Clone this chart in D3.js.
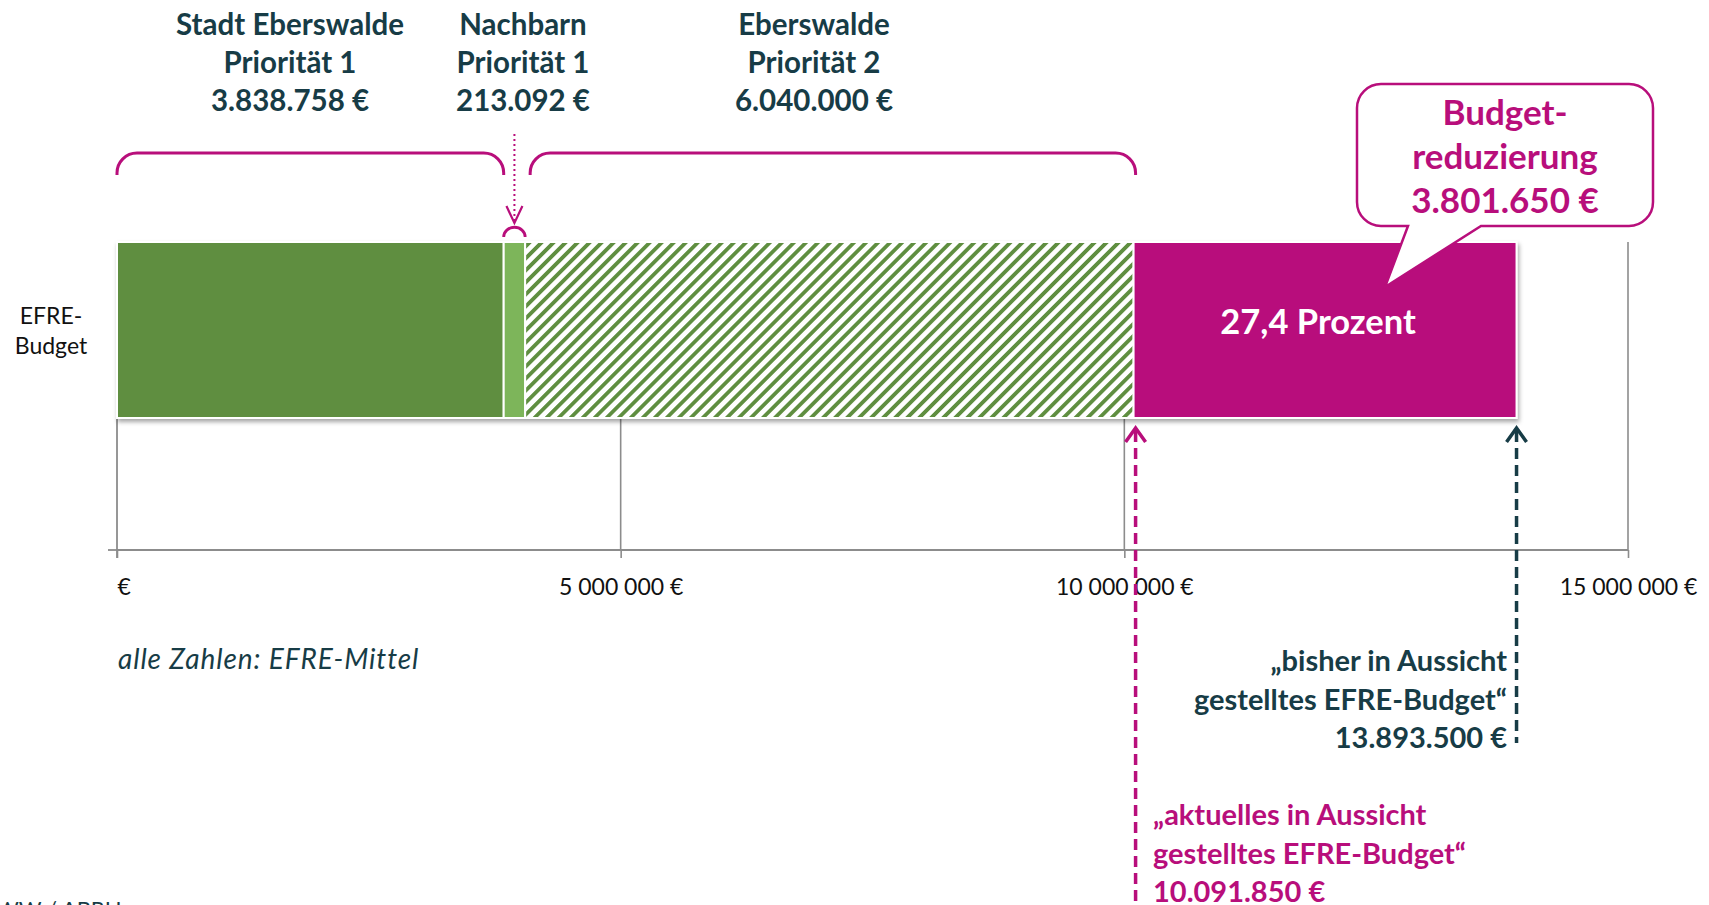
<!DOCTYPE html>
<html><head><meta charset="utf-8">
<script src="https://cdn.jsdelivr.net/npm/d3@7"></script>
<style>
html,body{margin:0;padding:0;background:#fff;}
svg{display:block;font-family:Lato,"Open Sans",sans-serif;}
</style></head>
<body>
<svg id="c" width="1709" height="905"></svg>
<script>
// ---- data ----
const categories = ["EFRE-Budget"];
const segmentNames = ["Stadt Eberswalde Priorität 1", "Nachbarn Priorität 1", "Eberswalde Priorität 2", "Budgetreduzierung"];
const segmentValues = [3838758, 213092, 6040000, 3801650];
const tickValues = [0, 5000000, 10000000, 15000000];
const headerLabels = [
  ["Stadt Eberswalde", "Priorität 1", "3.838.758 €"],
  ["Nachbarn", "Priorität 1", "213.092 €"],
  ["Eberswalde", "Priorität 2", "6.040.000 €"]
];
const calloutLabel = ["Budget-", "reduzierung", "3.801.650 €"];
const percentLabel = "27,4 Prozent";
const previousBudget = 13893500;
const currentBudget = 10091850;
const previousLabel = ["„bisher in Aussicht", "gestelltes EFRE-Budget“", "13.893.500 €"];
const currentLabel = ["„aktuelles in Aussicht", "gestelltes EFRE-Budget“", "10.091.850 €"];
const noteLabel = "alle Zahlen: EFRE-Mittel";
const sourceLabel = "WW / ABRH";

// ---- styles ----
const C = {dark:"#5E8E3F", light:"#7DB55A", magenta:"#B80E7B", teal:"#173C46", grid:"#8C8C8C"};

const svg = d3.select("#c");
const plotTop = 242, barBottom = 418, baseY = 550;
const x = d3.scaleLinear().domain([0, 15000000]).range([117, 1628]);
const y = d3.scaleBand().domain(categories).range([plotTop, barBottom]).padding(0);

const defs = svg.append("defs");
const pat = defs.append("pattern").attr("id","hatch").attr("patternUnits","userSpaceOnUse")
  .attr("width",8.5).attr("height",8.5).attr("patternTransform","rotate(45)");
pat.append("rect").attr("width",8.5).attr("height",8.5).attr("fill","#fff");
pat.append("rect").attr("x",0).attr("width",3.8).attr("height",8.5).attr("fill",C.dark);
const f = defs.append("filter").attr("id","sh").attr("x","-5%").attr("y","-10%").attr("width","110%").attr("height","130%");
f.append("feDropShadow").attr("dx",1.5).attr("dy",3).attr("stdDeviation",2).attr("flood-color","#000").attr("flood-opacity",0.35);

// gridlines
svg.append("g").selectAll("line").data(tickValues.slice(1)).join("line")
  .attr("x1",d=>x(d)).attr("x2",d=>x(d)).attr("y1",plotTop).attr("y2",baseY)
  .attr("stroke",C.grid).attr("stroke-width",1.6);
// y axis line
svg.append("line").attr("x1",x(0)).attr("x2",x(0)).attr("y1",plotTop).attr("y2",baseY+8)
  .attr("stroke",C.grid).attr("stroke-width",1.8);
svg.append("line").attr("x1",x(0)-9).attr("x2",x(0)).attr("y1",baseY).attr("y2",baseY)
  .attr("stroke",C.grid).attr("stroke-width",1.8);

// x axis
const fmt = d3.formatLocale({decimal:",", thousands:" ", grouping:[3], currency:["",""]}).format(",.0f");
const ax = svg.append("g").attr("transform",`translate(0,${baseY})`)
  .call(d3.axisBottom(x).tickValues(tickValues).tickSize(8).tickSizeOuter(0)
    .tickFormat(d => d === 0 ? "€" : fmt(d) + " €"));
ax.select(".domain").attr("stroke",C.grid).attr("stroke-width",1.8).attr("d",`M${x(0)},0H${x(15000000)}`);
ax.selectAll(".tick line").attr("stroke",C.grid).attr("stroke-width",1.6);
ax.selectAll(".tick text").attr("font-family","Lato").attr("font-size",23).attr("fill","#111")
  .attr("y",45).attr("dy",0)
  .attr("text-anchor", d => d === 0 ? "start" : "middle");

// stacked bar
let acc = 0;
const segs = segmentValues.map((v,i)=>{const s={name:segmentNames[i], x0:acc, x1:acc+v, i}; acc+=v; return s;});
const fills = [C.dark, C.light, "url(#hatch)", C.magenta];
const barG = svg.append("g").attr("filter","url(#sh)");
barG.selectAll("rect").data(segs).join("rect")
  .attr("x",d=>x(d.x0)).attr("width",d=>x(d.x1)-x(d.x0))
  .attr("y",y(categories[0])).attr("height",y.bandwidth())
  .attr("fill",(d,i)=>fills[i]).attr("stroke","#fff").attr("stroke-width",2);

// category label
svg.append("text").attr("x",51).attr("y",324).attr("text-anchor","middle").attr("font-size",23).attr("fill","#111")
  .selectAll("tspan").data(["EFRE-","Budget"]).join("tspan").attr("x",51).attr("dy",(d,i)=>i?30:0).text(d=>d);

// percent label
svg.append("text").attr("x",(x(segs[3].x0)+x(segs[3].x1))/2 - 7).attr("y",334).attr("text-anchor","middle")
  .attr("font-size",34.5).attr("font-weight",700).attr("fill","#fff").text(percentLabel);

// header labels
const hx = [290, 523, 814];
headerLabels.forEach((lines,k)=>{
  svg.append("text").attr("text-anchor","middle").attr("font-size",29.5).attr("font-weight",700).attr("fill",C.teal)
    .selectAll("tspan").data(lines).join("tspan").attr("x",hx[k]).attr("y",(d,i)=>35+i*38).text(d=>d);
});

// braces
function brace(a,b,top,bot,r){
  return `M${a},${bot}V${top+r}A${r},${r} 0 0 1 ${a+r},${top}H${b-r}A${r},${r} 0 0 1 ${b},${top+r}V${bot}`;
}
svg.append("path").attr("d",brace(x(segs[0].x0),x(segs[0].x1),153,175,20))
  .attr("fill","none").attr("stroke",C.magenta).attr("stroke-width",3);
svg.append("path").attr("d",brace(x(segs[2].x0)+5,x(segs[2].x1)+2,153,175,20))
  .attr("fill","none").attr("stroke",C.magenta).attr("stroke-width",3);
// small arc over Nachbarn
const n0 = x(segs[1].x0), n1 = x(segs[1].x1), nc=(n0+n1)/2, nr=(n1-n0)/2;
svg.append("path").attr("d",`M${n0},237A${nr},${nr-1} 0 0 1 ${n1},237`)
  .attr("fill","none").attr("stroke",C.magenta).attr("stroke-width",2.8);
svg.append("line").attr("x1",nc).attr("x2",nc).attr("y1",134).attr("y2",222)
  .attr("stroke",C.magenta).attr("stroke-width",2).attr("stroke-dasharray","2,3");
svg.append("path").attr("d",`M${nc-8},206L${nc},223L${nc+8},206`)
  .attr("fill","none").attr("stroke",C.magenta).attr("stroke-width",2.2);

// callout
const bx0=1357,bx1=1653,by0=84,by1=226,br=24;
const tailA=1408, tailB=1481, tipX=1385, tipY=287;
const callPath = `M${bx0+br},${by0}H${bx1-br}A${br},${br} 0 0 1 ${bx1},${by0+br}V${by1-br}A${br},${br} 0 0 1 ${bx1-br},${by1}`+
  `H${tailB}L${tipX},${tipY}L${tailA},${by1}H${bx0+br}A${br},${br} 0 0 1 ${bx0},${by1-br}V${by0+br}A${br},${br} 0 0 1 ${bx0+br},${by0}Z`;
svg.append("path").attr("d",callPath).attr("fill","#fff").attr("stroke",C.magenta).attr("stroke-width",2.5);
svg.append("text").attr("text-anchor","middle").attr("font-size",35).attr("font-weight",700).attr("fill",C.magenta)
  .selectAll("tspan").data(calloutLabel).join("tspan").attr("x",1505).attr("y",(d,i)=>125+i*44).text(d=>d);

// dashed arrows
function dashArrow(xp, y1, y2, col){
  svg.append("line").attr("x1",xp).attr("x2",xp).attr("y1",y1+3).attr("y2",y2)
    .attr("stroke",col).attr("stroke-width",3.5).attr("stroke-dasharray","11,6");
  svg.append("path").attr("d",`M${xp-10},${y1+14}L${xp},${y1}L${xp+10},${y1+14}`)
    .attr("fill","none").attr("stroke",col).attr("stroke-width",3.5);
}
dashArrow(x(currentBudget)+2, 428, 905, C.magenta);
dashArrow(x(previousBudget), 428, 743, C.teal);

// labels bottom right
svg.append("text").attr("text-anchor","end").attr("font-size",29).attr("font-weight",700).attr("fill",C.teal)
  .selectAll("tspan").data(previousLabel).join("tspan").attr("x",1507).attr("y",(d,i)=>671+i*38.5).text(d=>d);
svg.append("text").attr("text-anchor","start").attr("font-size",29).attr("font-weight",700).attr("fill",C.magenta)
  .selectAll("tspan").data(currentLabel).join("tspan").attr("x",1153).attr("y",(d,i)=>825+i*38.5).text(d=>d);

// note
svg.append("text").attr("x",118).attr("y",669).attr("font-size",28).attr("letter-spacing",0.9)
  .attr("font-style","italic").attr("fill",C.teal).text(noteLabel);
svg.append("text").attr("x",-4).attr("y",917).attr("font-size",22).attr("fill",C.teal).text(sourceLabel);
</script>
</body></html>
